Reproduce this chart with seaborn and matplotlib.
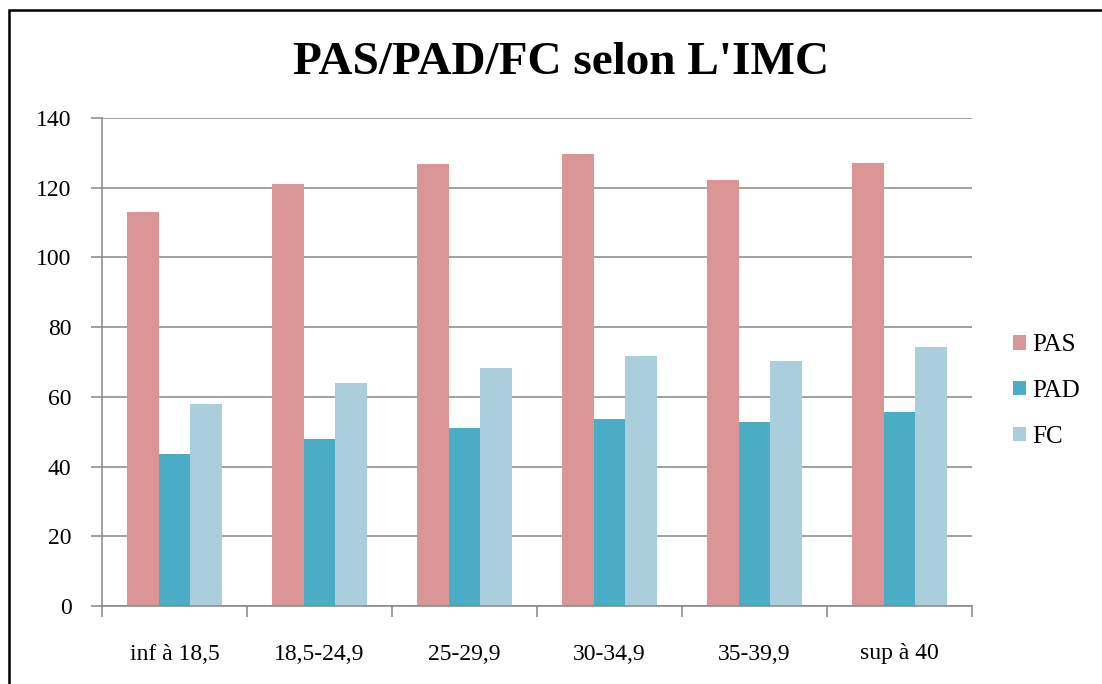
import numpy as np
import pandas as pd
import matplotlib.pyplot as plt
import seaborn as sns
from matplotlib.patches import Rectangle

# données
categories = ["inf à 18,5", "18,5-24,9", "25-29,9", "30-34,9", "35-39,9", "sup à 40"]
pas = [113.1, 121.0, 126.8, 129.8, 122.1, 127.2]
pad = [43.5, 47.8, 51.1, 53.6, 52.9, 55.7]
fc = [57.9, 63.9, 68.3, 71.6, 70.4, 74.3]
series = ["PAS", "PAD", "FC"]
colors = ["#D99694", "#4BACC6", "#AACEDC"]

df = pd.DataFrame({
    "IMC": categories * 3,
    "serie": ["PAS"] * 6 + ["PAD"] * 6 + ["FC"] * 6,
    "valeur": pas + pad + fc,
})

sns.set_style("white")
plt.rcParams['font.family'] = ['Liberation Serif', 'DejaVu Serif']
plt.rcParams['text.color'] = 'black'
plt.rcParams['xtick.labelcolor'] = 'black'
plt.rcParams['ytick.labelcolor'] = 'black'

fig = plt.figure(figsize=(11.02, 6.84), dpi=100)
W, H = 1102, 684
ax = fig.add_axes([102 / W, 1 - 606 / H, (972 - 102) / W, (606 - 118) / H])

sns.barplot(data=df, x="IMC", y="valeur", hue="serie", hue_order=series,
            palette=colors, order=categories, width=0.66, gap=0,
            saturation=1, linewidth=0, ax=ax, legend=True)

ax.set_ylim(0, 140)
ax.set_yticks(np.arange(0, 141, 20))
ax.set_xlim(-0.5, len(categories) - 0.5)
ax.set_xlabel("")
ax.set_ylabel("")

gris = "#868686"
ax.yaxis.grid(True, color=gris, linewidth=1.1)
ax.set_axisbelow(True)
for s in ["top", "right"]:
    ax.spines[s].set_visible(False)
for s in ["left", "bottom"]:
    ax.spines[s].set_color(gris)
    ax.spines[s].set_linewidth(1.1)

# ticks x : labels au centre, petits traits aux limites des groupes
ax.set_xticks(range(len(categories)))
ax.set_xticklabels(categories)
ax.set_xticks(np.arange(-0.5, len(categories)), minor=True)
ax.tick_params(axis="x", which="major", length=0, pad=27, labelsize=17, labelcolor="black")
ax.tick_params(axis="x", which="minor", length=8, width=1.1, color=gris, direction="out")
ax.tick_params(axis="y", length=8, width=1.1, color=gris, direction="out", pad=14,
               labelsize=17, labelcolor="black")
ax.tick_params(bottom=True, left=True, which="both")

# légende
handles, labels = ax.get_legend_handles_labels()
ax.legend_.remove()
fig.legend(handles, labels, loc="center left", bbox_to_anchor=(1013 / W, 1 - 391 / H),
           frameon=False, fontsize=18, handlelength=0.52, handleheight=0.52,
           handletextpad=0.25, labelspacing=0.95, borderpad=0, borderaxespad=0,
           labelcolor="black")

# titre
fig.text(561 / W, 1 - 74 / H, "PAS/PAD/FC selon L'IMC", ha="center", va="baseline",
         fontsize=34, fontweight="bold", color="black")

# cadre noir autour du graphique
fig.patches.append(Rectangle((9 / W, -0.1), 1.2, 1.1 - 10 / H, transform=fig.transFigure,
                             fill=False, edgecolor="black", linewidth=1.8, clip_on=False))

fig.savefig("out.png", dpi=100)
